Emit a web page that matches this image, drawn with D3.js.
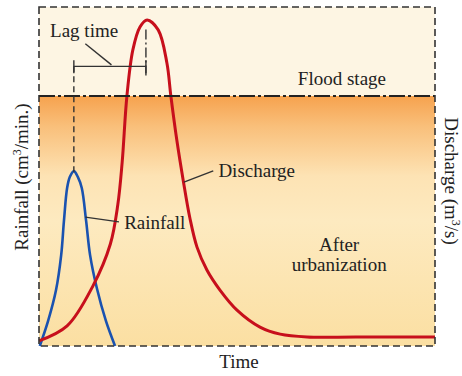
<!DOCTYPE html>
<html>
<head>
<meta charset="utf-8">
<script src="https://d3js.org/d3.v7.min.js"></script>
<style>
  body { margin: 0; background: #fff; }
  text { font-family: "Liberation Serif", "Times New Roman", serif; fill: #222; }
</style>
</head>
<body>
<div id="chart"></div>
<script>
// hydrograph readings (time in arbitrary hours, discharge m3/s, rainfall cm3/min)
var dischargeTime = [0, 7.1, 13.6, 18.0, 19.9, 21.0, 22.2, 23.7, 25.5, 27.3, 30.1, 32.3, 33.3, 34.8, 36.4, 38.1, 39.9, 42.4, 45.7, 50.0, 55.8, 60.9, 67.7, 80, 100]
var dischargeValue = [1.8, 7.1, 21.2, 36, 50, 65, 88.5, 104.8, 112.9, 115.4, 111.9, 100.2, 88.5, 72.9, 58.8, 45.3, 35.0, 26.9, 19.8, 12.7, 6.7, 4.2, 3.2, 3.2, 3.2]

var rainTime = [0.2, 2.3, 4.3, 5.6, 6.3, 7.1, 7.8, 8.8, 9.8, 10.8, 11.9, 12.9, 14.6, 16.9, 19.2]
var rainValue = [0, 0.74, 1.65, 2.68, 3.69, 4.66, 4.99, 5.16, 4.99, 4.66, 3.69, 2.68, 1.71, 0.74, 0]

var floodStage = 88.5
var rainPeakTime = 8.8
var dischargePeakTime = 27.0

var width = 462, height = 376
var margin = { top: 7, right: 27, bottom: 30, left: 39 }

var svg = d3.select("#chart").append("svg")
    .attr("width", width)
    .attr("height", height)

var x = d3.scaleLinear().domain([0, 100]).range([margin.left, width - margin.right])
var yQ = d3.scaleLinear().domain([0, 120]).range([height - margin.bottom, margin.top])
var yR = d3.scaleLinear().domain([0, 10]).range([height - margin.bottom, margin.top])

// gradient for the part below flood stage
var defs = svg.append("defs")
var grad = defs.append("linearGradient").attr("id", "below")
    .attr("x1", 0).attr("y1", 0).attr("x2", 0).attr("y2", 1)
grad.append("stop").attr("offset", "0%").attr("stop-color", "#f6a24e")
grad.append("stop").attr("offset", "12%").attr("stop-color", "#f9bf7a")
grad.append("stop").attr("offset", "32%").attr("stop-color", "#fde3b4")
grad.append("stop").attr("offset", "50%").attr("stop-color", "#fdeac0")
grad.append("stop").attr("offset", "100%").attr("stop-color", "#fbdfa2")

var x0 = x(0), x1 = x(100), yTop = yQ(120), yBot = yQ(0), yFlood = yQ(floodStage)

svg.append("rect")
    .attr("x", x0).attr("y", yTop)
    .attr("width", x1 - x0).attr("height", yFlood - yTop)
    .attr("fill", "#fdf5e3")

svg.append("rect")
    .attr("x", x0).attr("y", yFlood)
    .attr("width", x1 - x0).attr("height", yBot - yFlood)
    .attr("fill", "url(#below)")

// curves
var dischargeData = dischargeTime.map(function (t, i) { return { t: t, v: dischargeValue[i] } })
var rainData = rainTime.map(function (t, i) { return { t: t, v: rainValue[i] } })

svg.append("path")
    .datum(rainData)
    .attr("fill", "none")
    .attr("stroke", "#1a52b0")
    .attr("stroke-width", 2.6)
    .attr("d", d3.line().x(function (d) { return x(d.t) }).y(function (d) { return yR(d.v) }).curve(d3.curveCatmullRom.alpha(0.5)))

svg.append("path")
    .datum(dischargeData)
    .attr("fill", "none")
    .attr("stroke", "#c70f1c")
    .attr("stroke-width", 3)
    .attr("d", d3.line().x(function (d) { return x(d.t) }).y(function (d) { return yQ(d.v) }).curve(d3.curveCatmullRom.alpha(0.5)))

// flood stage line
svg.append("line")
    .attr("x1", x0).attr("x2", x1)
    .attr("y1", yFlood).attr("y2", yFlood)
    .attr("stroke", "#222")
    .attr("stroke-width", 2.2)
    .attr("stroke-dasharray", "16,3,3,3")

// dashed frame
svg.append("rect")
    .attr("x", x0).attr("y", yTop)
    .attr("width", x1 - x0).attr("height", yBot - yTop)
    .attr("fill", "none")
    .attr("stroke", "#333")
    .attr("stroke-width", 1.6)
    .attr("stroke-dasharray", "7,4")

// lag time bracket
var lagY = yQ(99)
var lx1 = x(rainPeakTime), lx2 = x(dischargePeakTime)
var ann = svg.append("g").attr("stroke", "#333").attr("stroke-width", 1.4)
ann.append("line").attr("x1", lx1).attr("x2", lx1).attr("y1", lagY).attr("y2", yR(5.16) + 2)
    .attr("stroke-dasharray", "6,4")
ann.append("line").attr("x1", lx2).attr("x2", lx2).attr("y1", yQ(112)).attr("y2", lagY + 10)
    .attr("stroke-dasharray", "10,3,2,3")
ann.append("line").attr("x1", lx1).attr("x2", lx2).attr("y1", lagY).attr("y2", lagY)
ann.append("line").attr("x1", lx1).attr("x2", lx1).attr("y1", lagY - 6).attr("y2", lagY + 7)
ann.append("line").attr("x1", lx2).attr("x2", lx2).attr("y1", lagY - 6).attr("y2", lagY + 7)
// leaders
ann.append("line").attr("x1", x(11.7)).attr("y1", yQ(107)).attr("x2", x(18.3)).attr("y2", yQ(99.5))
ann.append("line").attr("x1", x(36.6)).attr("y1", yQ(58)).attr("x2", x(44)).attr("y2", yQ(62))
ann.append("line").attr("x1", x(11.7)).attr("y1", yR(3.8)).attr("x2", x(20.2)).attr("y2", yR(3.66))

var fs = "19px"
svg.append("text").attr("x", x(2.8)).attr("y", 37).style("font-size", fs).text("Lag time")
svg.append("text").attr("x", x(76.5)).attr("y", yFlood - 11).attr("text-anchor", "middle").style("font-size", fs).text("Flood stage")
svg.append("text").attr("x", x(45.3)).attr("y", 177).style("font-size", fs).text("Discharge")
svg.append("text").attr("x", x(21.5)).attr("y", 229).style("font-size", fs).text("Rainfall")
svg.append("text").attr("x", x(75.8)).attr("y", 251).attr("text-anchor", "middle").style("font-size", fs).text("After")
svg.append("text").attr("x", x(75.8)).attr("y", 271).attr("text-anchor", "middle").style("font-size", fs).text("urbanization")
svg.append("text").attr("x", x(50.5)).attr("y", 368).attr("text-anchor", "middle").style("font-size", fs).text("Time")

// axis titles
var left = svg.append("text")
    .attr("transform", "translate(28,177) rotate(-90)")
    .attr("text-anchor", "middle")
    .style("font-size", fs)
left.append("tspan").text("Rainfall (cm")
left.append("tspan").attr("dy", -7).style("font-size", "12px").text("3")
left.append("tspan").attr("dy", 7).text("/min.)")

var right = svg.append("text")
    .attr("transform", "translate(445,181) rotate(90)")
    .attr("text-anchor", "middle")
    .style("font-size", fs)
right.append("tspan").text("Discharge (m")
right.append("tspan").attr("dy", -7).style("font-size", "12px").text("3")
right.append("tspan").attr("dy", 7).text("/s)")
</script>
</body>
</html>
